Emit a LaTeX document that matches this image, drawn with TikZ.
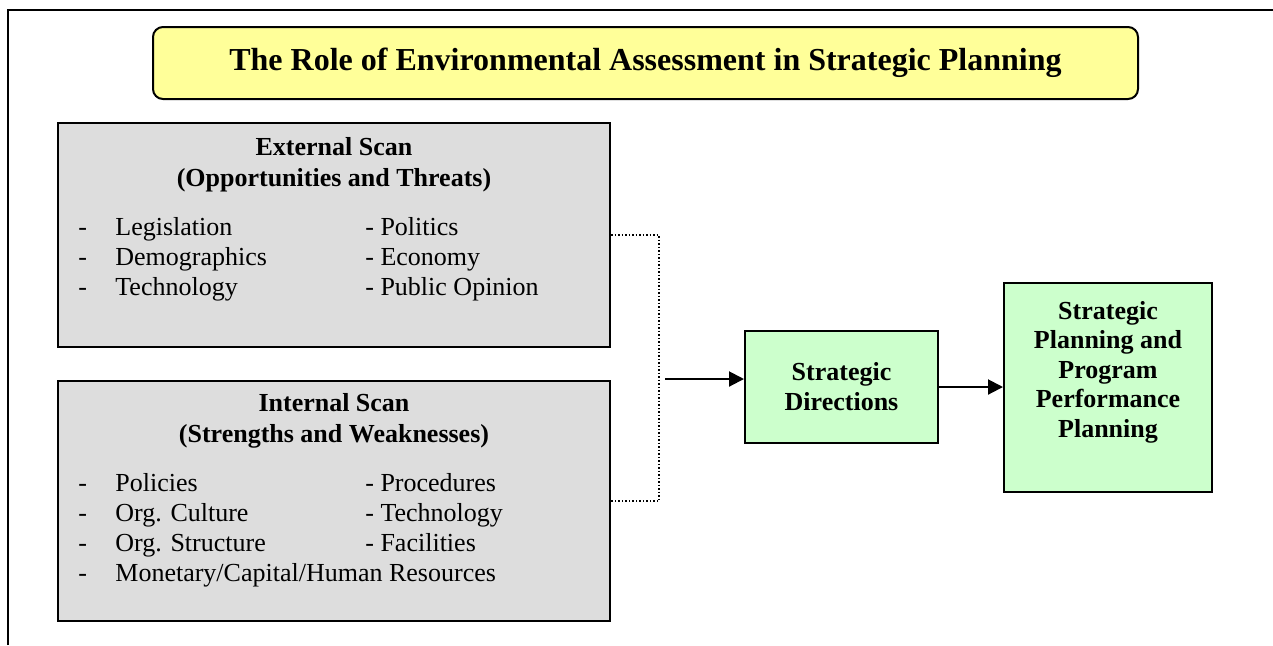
\documentclass[tikz,border=0pt]{standalone}
\usepackage{fontspec}
\setmainfont{Liberation Serif}
\usetikzlibrary{
  arrows.meta,
  positioning,
  calc
}
\definecolor{esTitle}{HTML}{FFFF99}
\definecolor{esScan}{HTML}{DDDDDD}
\definecolor{esPlan}{HTML}{CCFFCC}
\tikzset{
  esnode/.style={
    draw, line width=1pt, inner sep=0pt, align=center
  },
  titlebox/.style={esnode, fill=esTitle, rounded corners=5pt,
    minimum width=492.5pt, minimum height=36pt,
    font=\fontsize{16}{19}\selectfont\bfseries},
  scanbox/.style={esnode, fill=esScan, minimum width=276pt},
  planbox/.style={esnode, fill=esPlan, font=\fontsize{13}{15}\selectfont\bfseries},
  scanhead/.style={inner sep=0pt, anchor=base, font=\fontsize{13}{15.5}\selectfont\bfseries},
  scanlist/.style={inner sep=0pt, anchor=base west, font=\fontsize{13}{15}\selectfont},
  flow/.style={-{Triangle[length=7.5pt, width=7.5pt]}, line width=1pt},
  joinline/.style={densely dotted, line width=0.75pt},
  frameline/.style={line width=1pt}
}

\begin{document}
\begin{tikzpicture}[x=0.5pt, y=-0.5pt]
  \useasboundingbox (0,0) rectangle (1273,645);
  \draw[frameline] (8,645) |- (1273,10);

  \node[titlebox] (title) at (645.5,63) {The Role of Environmental Assessment in Strategic Planning};

  % the two scans
  \node[scanbox, minimum height=112pt] (ext) at (334,235) {};
  \node[scanbox, minimum height=120pt, below=16pt of ext] (int) {};

  \node[scanhead] (exthead) at (334,155)
    {\begin{tabular}[t]{@{}c@{}}External Scan\\(Opportunities and Threats)\end{tabular}};
  \node[scanlist] (extlist) at (78,235)
    {\begin{tabular}[t]{@{}p{18.5pt}@{}p{125pt}@{}l@{}}
      - & Legislation & - Politics\\
      - & Demographics & - Economy\\
      - & Technology & - Public Opinion
    \end{tabular}};

  \node[scanhead] (inthead) at (334,411)
    {\begin{tabular}[t]{@{}c@{}}Internal Scan\\(Strengths and Weaknesses)\end{tabular}};
  \node[scanlist] (intlist) at (78,491)
    {\begin{tabular}[t]{@{}p{18.5pt}@{}p{125pt}@{}l@{}}
      - & Policies & - Procedures\\
      - & Org. Culture & - Technology\\
      - & Org. Structure & - Facilities\\
      - & \multicolumn{2}{@{}l@{}}{Monetary/Capital/Human Resources}
    \end{tabular}};

  % planning side
  \node[planbox, minimum width=96.5pt, minimum height=56pt] (sd) at (841.5,387) {Strategic\\Directions};
  \node[planbox, minimum width=104pt, minimum height=104.5pt, right=32pt of sd] (spp) {};
  \node[inner sep=0pt, anchor=base, font=\fontsize{13}{14.75}\selectfont\bfseries] (spptext) at (spp.center |- 0,319)
    {\begin{tabular}[t]{@{}c@{}}Strategic\\Planning and\\Program\\Performance\\Planning\end{tabular}};

  \draw[joinline] (ext.east) -- ++(24pt,0) |- (int.east);
  \coordinate (join) at (665,379);
  \draw[flow] (join) -- (join -| sd.west);
  \draw[flow] (sd) -- (spp);
\end{tikzpicture}
\end{document}
